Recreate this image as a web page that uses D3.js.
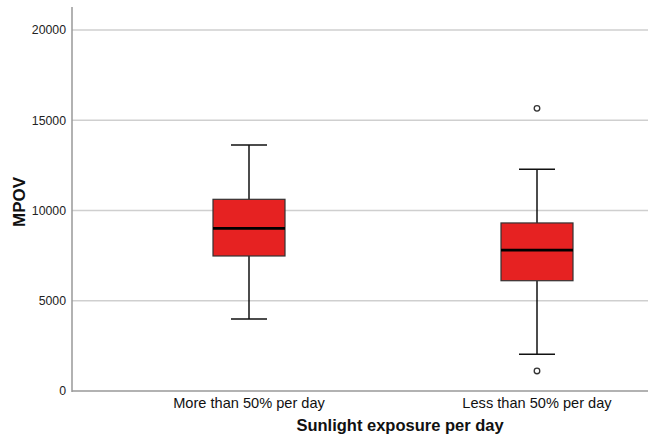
<!DOCTYPE html>
<html><head><meta charset="utf-8">
<script src="https://cdn.jsdelivr.net/npm/d3@7"></script>
<style>
body{margin:0;background:#fff;}
svg{display:block;font-family:"Liberation Sans",Arial,Helvetica,sans-serif;}
</style></head>
<body>
<svg id="chart" width="648" height="445"></svg>
<script>
const categories = ["More than 50% per day", "Less than 50% per day"];
const whiskerLow = [3990, 2030];
const q1 = [7480, 6110];
const median = [9010, 7810];
const q3 = [10620, 9310];
const whiskerHigh = [13630, 12280];
const outliers = [[], [15660, 1110]];
const yTicks = [0, 5000, 10000, 15000, 20000];
const yLabel = "MPOV";
const xLabel = "Sunlight exposure per day";

(function () {
const svg = d3.select("#chart");
const mLeft = 72, mRight = 648, mTop = 7, mBottom = 391;

const y = d3.scaleLinear().domain([0, 20000]).range([mBottom, 30]);
const x = d3.scaleBand().domain(categories).range([105, 681]);

// gridlines
svg.append("g").selectAll("line").data(yTicks.filter(d => d > 0)).join("line")
  .attr("x1", mLeft).attr("x2", mRight)
  .attr("y1", d => y(d)).attr("y2", d => y(d))
  .attr("stroke", "#cfcfcf").attr("stroke-width", 1.5);

// y axis
const yAxis = svg.append("g").attr("transform", `translate(${mLeft},0)`)
  .call(d3.axisLeft(y).tickValues(yTicks).tickSize(0).tickPadding(6).tickFormat(d3.format("d")));
yAxis.select(".domain").remove();
yAxis.selectAll("text").attr("font-size", 12.3).attr("fill", "#222").attr("font-family", "Liberation Sans, Arial, sans-serif");
svg.append("line").attr("x1", mLeft).attr("x2", mLeft).attr("y1", mTop).attr("y2", mBottom + 1)
  .attr("stroke", "#999").attr("stroke-width", 1.5);

// x axis
const xAxis = svg.append("g").attr("transform", `translate(0,${mBottom})`)
  .call(d3.axisBottom(x).tickSize(0).tickPadding(7));
xAxis.select(".domain").remove();
xAxis.selectAll("text").attr("font-size", 14.6).attr("fill", "#111").attr("font-family", "Liberation Sans, Arial, sans-serif");
svg.append("line").attr("x1", mLeft).attr("x2", mRight).attr("y1", mBottom).attr("y2", mBottom)
  .attr("stroke", "#999").attr("stroke-width", 1.5);

// boxes
const boxW = 72, capW = 36;
const g = svg.append("g");
categories.forEach((c, i) => {
  const cx = x(c) + x.bandwidth() / 2;
  g.append("line").attr("x1", cx).attr("x2", cx).attr("y1", y(whiskerHigh[i])).attr("y2", y(q3[i]))
    .attr("stroke", "#111").attr("stroke-width", 1.5);
  g.append("line").attr("x1", cx).attr("x2", cx).attr("y1", y(q1[i])).attr("y2", y(whiskerLow[i]))
    .attr("stroke", "#111").attr("stroke-width", 1.5);
  [whiskerHigh[i], whiskerLow[i]].forEach(v => {
    g.append("line").attr("x1", cx - capW / 2).attr("x2", cx + capW / 2).attr("y1", y(v)).attr("y2", y(v))
      .attr("stroke", "#111").attr("stroke-width", 1.5);
  });
  g.append("rect").attr("x", cx - boxW / 2).attr("width", boxW)
    .attr("y", y(q3[i])).attr("height", y(q1[i]) - y(q3[i]))
    .attr("fill", "#e62222").attr("stroke", "#333").attr("stroke-width", 1.2);
  g.append("line").attr("x1", cx - boxW / 2).attr("x2", cx + boxW / 2).attr("y1", y(median[i])).attr("y2", y(median[i]))
    .attr("stroke", "#000").attr("stroke-width", 2.8);
  outliers[i].forEach(v => {
    g.append("circle").attr("cx", cx).attr("cy", y(v)).attr("r", 2.8)
      .attr("fill", "#fff").attr("stroke", "#333").attr("stroke-width", 1.3);
  });
});

// titles
svg.append("text").attr("x", 400).attr("y", 431).attr("text-anchor", "middle")
  .attr("font-size", 16.5).attr("font-weight", "bold").attr("fill", "#111").text(xLabel);
svg.append("text").attr("transform", `translate(25,202) rotate(-90)`)
  .attr("text-anchor", "middle").attr("font-size", 17).attr("font-weight", "bold").attr("fill", "#111").text(yLabel);
})();
</script>
</body></html>
